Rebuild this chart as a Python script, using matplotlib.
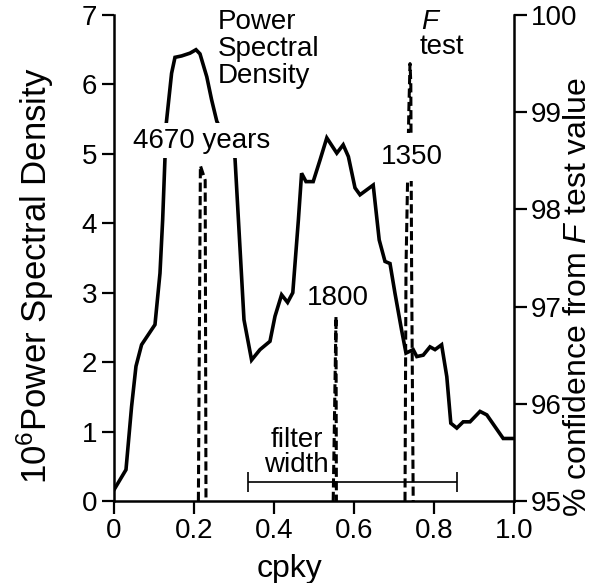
import matplotlib
matplotlib.use('Agg')
import matplotlib.pyplot as plt

plt.rcParams['font.family'] = ['Liberation Sans', 'DejaVu Sans']
plt.rcParams['mathtext.fontset'] = 'custom'
plt.rcParams['mathtext.rm'] = 'Liberation Sans'
plt.rcParams['mathtext.it'] = 'Liberation Sans:italic'

# power spectral density (10^6 units) vs frequency (cpky)
psd_x = [0.0, 0.03, 0.044, 0.055, 0.069, 0.1025, 0.115, 0.1217, 0.1275, 0.13,
         0.144, 0.1525, 0.169, 0.19, 0.205, 0.215, 0.232, 0.244, 0.257, 0.3025,
         0.325, 0.344, 0.365, 0.39, 0.4025, 0.419, 0.434, 0.447, 0.461, 0.469,
         0.48, 0.498, 0.515, 0.532, 0.557, 0.573, 0.586, 0.6025, 0.615, 0.648,
         0.663, 0.6775, 0.69, 0.7025, 0.719, 0.73, 0.748, 0.757, 0.773, 0.79,
         0.8025, 0.819, 0.832, 0.842, 0.857, 0.873, 0.89, 0.915, 0.932, 0.973, 1.0]
psd_y = [0.16, 0.45, 1.36, 1.94, 2.25, 2.54, 3.28, 4.05, 4.94, 5.4,
         6.16, 6.39, 6.41, 6.45, 6.5, 6.44, 6.11, 5.78, 5.47, 4.94,
         2.61, 2.03, 2.18, 2.30, 2.66, 2.97, 2.86, 3.0, 4.05, 4.72,
         4.6, 4.6, 4.91, 5.23, 5.01, 5.13, 4.96, 4.51, 4.41, 4.55,
         3.76, 3.45, 3.42, 2.99, 2.46, 2.13, 2.18, 2.08, 2.10, 2.22,
         2.18, 2.25, 1.79, 1.12, 1.05, 1.14, 1.14, 1.29, 1.24, 0.90, 0.90]

# F test confidence (%) spikes
f4670_x = [0.211, 0.216, 0.228, 0.230]
f4670_conf = [95.0, 98.45, 98.3, 95.0]
f1800_x = [0.548, 0.551, 0.555, 0.556]
f1800_conf = [95.0, 95.8, 96.9, 95.0]
f1350_x = [0.7275, 0.730, 0.737, 0.740, 0.742, 0.744, 0.748]
f1350_conf = [95.0, 97.4, 99.0, 99.5, 99.3, 97.4, 95.0]

# filter width bar
filter_lo = 0.335
filter_hi = 0.857
filter_level = 0.27

xticks = [0, 0.2, 0.4, 0.6, 0.8, 1.0]
xticklabels = ['0', '0.2', '0.4', '0.6', '0.8', '1.0']
yticks = [0, 1, 2, 3, 4, 5, 6, 7]
conf_ticks = [95, 96, 97, 98, 99, 100]

fig = plt.figure(figsize=(5.93, 5.83), dpi=100, facecolor='white')
ax = fig.add_axes([0.1922, 0.1407, 0.6746, 0.8336])
ax2 = ax.twinx()

ax.plot(psd_x, psd_y, color='black', lw=2.6, solid_joinstyle='miter')
ax.errorbar([(filter_lo + filter_hi) / 2], [filter_level],
            xerr=[(filter_hi - filter_lo) / 2], color='black', lw=1.2,
            capsize=7, capthick=1.2)

for fx, fc in [(f4670_x, f4670_conf), (f1800_x, f1800_conf), (f1350_x, f1350_conf)]:
    ax2.plot(fx, fc, color='black', lw=2.2, dashes=(3, 1.4))

ax.set_xlim(0, 1.0)
ax.set_ylim(0, 7)
ax2.set_ylim(95, 100)

ax.set_xticks(xticks)
ax.set_xticklabels(xticklabels)
ax.set_yticks(yticks)
ax2.set_yticks(conf_ticks)

for a in (ax, ax2):
    a.spines['top'].set_visible(False)
    for s in a.spines.values():
        s.set_linewidth(1.8)
    a.tick_params(direction='out', length=9, width=1.6, labelsize=20, pad=3)
ax2.spines['left'].set_visible(False)
ax2.spines['bottom'].set_visible(False)
ax.spines['right'].set_visible(False)

ax.set_xlabel('cpky', fontsize=23)
ax.xaxis.set_label_coords(0.44, -0.11)
ax.set_ylabel('10$^6$Power Spectral Density', fontsize=25)
ax.yaxis.set_label_coords(-0.145, 0.463)
ax2.set_ylabel('% confidence from $\\mathit{F}$ test value', fontsize=23)
ax2.yaxis.set_label_coords(1.123, 0.42)

bb = dict(facecolor='white', edgecolor='none', pad=3)
tr = ax.transData
ax2.text(0.26, 7.08, 'Power\nSpectral\nDensity', transform=tr, fontsize=20,
         ha='left', va='top', linespacing=1.05, clip_on=False)
ax2.text(0.219, 5.19, '4670 years', transform=tr, fontsize=20,
         ha='center', va='center', bbox=bb)
ax2.text(0.745, 4.96, '1350', transform=tr, fontsize=20,
         ha='center', va='center', bbox=dict(facecolor='white', edgecolor='none', pad=8))
ax2.text(0.56, 2.93, '1800', transform=tr, fontsize=20,
         ha='center', va='center')
ax2.text(0.79, 6.9, 'F', transform=tr, fontsize=20, style='italic',
         ha='center', va='center')
ax2.text(0.82, 6.54, 'test', transform=tr, fontsize=20,
         ha='center', va='center')
ax2.text(0.457, 0.70, 'filter\nwidth', transform=tr, fontsize=20,
         ha='center', va='center', linespacing=0.95)

fig.savefig('out.png', dpi=100)
